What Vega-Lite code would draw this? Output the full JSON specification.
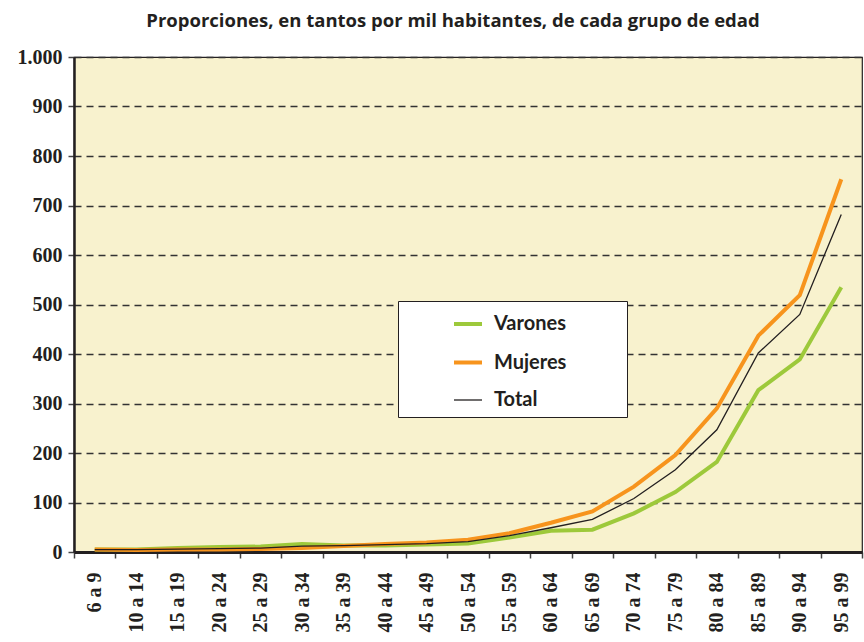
{
  "$schema": "https://vega.github.io/schema/vega-lite/v6.json",
  "width": 788,
  "height": 495,
  "autosize": {"type": "none"},
  "padding": {"left": 74, "top": 57, "right": 2, "bottom": 90},
  "background": "#ffffff",
  "title": {
    "text": "Proporciones, en tantos por mil habitantes, de cada grupo de edad",
    "font": "Open Sans",
    "fontWeight": "bold",
    "fontSize": 18.5,
    "color": "#231f20",
    "anchor": "middle",
    "dx": -15,
    "offset": 17
  },
  "config": {
    "locale": {"number": {"decimal": ",", "thousands": ".", "grouping": [3], "currency": ["", " €"]}},
    "view": {"fill": "#F8F2CE", "stroke": "#231f20", "strokeWidth": 1.2},
    "legend": {
      "fillColor": "#ffffff",
      "strokeColor": "#231f20",
      "padding": 7,
      "symbolType": "stroke",
      "symbolSize": 784,
      "symbolOffset": 47,
      "rowPadding": 12.5,
      "labelFont": "Lato",
      "labelFontWeight": "bold",
      "labelFontSize": 20,
      "labelColor": "#231f20",
      "labelOffset": 10,
      "labelLimit": 300
    }
  },
  "data": {
    "values": [
      {"edad": "6 a 9", "serie": "Varones", "valor": 5},
      {"edad": "10 a 14", "serie": "Varones", "valor": 5},
      {"edad": "15 a 19", "serie": "Varones", "valor": 8},
      {"edad": "20 a 24", "serie": "Varones", "valor": 10},
      {"edad": "25 a 29", "serie": "Varones", "valor": 11},
      {"edad": "30 a 34", "serie": "Varones", "valor": 16},
      {"edad": "35 a 39", "serie": "Varones", "valor": 13},
      {"edad": "40 a 44", "serie": "Varones", "valor": 13},
      {"edad": "45 a 49", "serie": "Varones", "valor": 15},
      {"edad": "50 a 54", "serie": "Varones", "valor": 17},
      {"edad": "55 a 59", "serie": "Varones", "valor": 29},
      {"edad": "60 a 64", "serie": "Varones", "valor": 43},
      {"edad": "65 a 69", "serie": "Varones", "valor": 45},
      {"edad": "70 a 74", "serie": "Varones", "valor": 78},
      {"edad": "75 a 79", "serie": "Varones", "valor": 121},
      {"edad": "80 a 84", "serie": "Varones", "valor": 182},
      {"edad": "85 a 89", "serie": "Varones", "valor": 327},
      {"edad": "90 a 94", "serie": "Varones", "valor": 389},
      {"edad": "95 a 99", "serie": "Varones", "valor": 535},
      {"edad": "6 a 9", "serie": "Mujeres", "valor": 5},
      {"edad": "10 a 14", "serie": "Mujeres", "valor": 4},
      {"edad": "15 a 19", "serie": "Mujeres", "valor": 5},
      {"edad": "20 a 24", "serie": "Mujeres", "valor": 5},
      {"edad": "25 a 29", "serie": "Mujeres", "valor": 6},
      {"edad": "30 a 34", "serie": "Mujeres", "valor": 8},
      {"edad": "35 a 39", "serie": "Mujeres", "valor": 12},
      {"edad": "40 a 44", "serie": "Mujeres", "valor": 16},
      {"edad": "45 a 49", "serie": "Mujeres", "valor": 19},
      {"edad": "50 a 54", "serie": "Mujeres", "valor": 25},
      {"edad": "55 a 59", "serie": "Mujeres", "valor": 38},
      {"edad": "60 a 64", "serie": "Mujeres", "valor": 59},
      {"edad": "65 a 69", "serie": "Mujeres", "valor": 82},
      {"edad": "70 a 74", "serie": "Mujeres", "valor": 132},
      {"edad": "75 a 79", "serie": "Mujeres", "valor": 196},
      {"edad": "80 a 84", "serie": "Mujeres", "valor": 290},
      {"edad": "85 a 89", "serie": "Mujeres", "valor": 437},
      {"edad": "90 a 94", "serie": "Mujeres", "valor": 519},
      {"edad": "95 a 99", "serie": "Mujeres", "valor": 753},
      {"edad": "6 a 9", "serie": "Total", "valor": 5},
      {"edad": "10 a 14", "serie": "Total", "valor": 5},
      {"edad": "15 a 19", "serie": "Total", "valor": 6},
      {"edad": "20 a 24", "serie": "Total", "valor": 7},
      {"edad": "25 a 29", "serie": "Total", "valor": 8},
      {"edad": "30 a 34", "serie": "Total", "valor": 12},
      {"edad": "35 a 39", "serie": "Total", "valor": 13},
      {"edad": "40 a 44", "serie": "Total", "valor": 15},
      {"edad": "45 a 49", "serie": "Total", "valor": 17},
      {"edad": "50 a 54", "serie": "Total", "valor": 21},
      {"edad": "55 a 59", "serie": "Total", "valor": 33},
      {"edad": "60 a 64", "serie": "Total", "valor": 49},
      {"edad": "65 a 69", "serie": "Total", "valor": 66},
      {"edad": "70 a 74", "serie": "Total", "valor": 108},
      {"edad": "75 a 79", "serie": "Total", "valor": 166},
      {"edad": "80 a 84", "serie": "Total", "valor": 247},
      {"edad": "85 a 89", "serie": "Total", "valor": 402},
      {"edad": "90 a 94", "serie": "Total", "valor": 480},
      {"edad": "95 a 99", "serie": "Total", "valor": 682}
    ]
  },
  "mark": {"type": "line", "strokeJoin": "miter", "strokeCap": "butt"},
  "encoding": {
    "x": {
      "field": "edad",
      "type": "ordinal",
      "sort": null,
      "scale": {"type": "band", "paddingInner": 0, "paddingOuter": 0},
      "axis": {
        "title": null,
        "tickBand": "extent",
        "labelAngle": -90,
        "labelAlign": "right",
        "labelBaseline": "middle",
        "labelFont": "Liberation Serif",
        "labelFontWeight": "bold",
        "labelFontSize": 20,
        "labelColor": "#231f20",
        "labelPadding": 14,
        "domainColor": "#231f20",
        "domainWidth": 3,
        "tickColor": "#444444",
        "tickSize": 6,
        "tickWidth": 1.5,
        "grid": false
      }
    },
    "y": {
      "field": "valor",
      "type": "quantitative",
      "scale": {"domain": [0, 1000], "nice": false},
      "axis": {
        "title": null,
        "values": [0, 100, 200, 300, 400, 500, 600, 700, 800, 900, 1000],
        "format": ",d",
        "labelFont": "Liberation Serif",
        "labelFontWeight": "bold",
        "labelFontSize": 20,
        "labelColor": "#231f20",
        "labelPadding": 6,
        "domainColor": "#231f20",
        "domainWidth": 2.5,
        "tickColor": "#444444",
        "tickSize": 6,
        "tickWidth": 1.5,
        "grid": true,
        "gridColor": "#333333",
        "gridDash": [7, 5],
        "gridWidth": 1.3
      }
    },
    "color": {
      "field": "serie",
      "type": "nominal",
      "sort": null,
      "scale": {"domain": ["Varones", "Mujeres", "Total"], "range": ["#9DC93B", "#F7941D", "#231f20"]},
      "legend": {
        "title": null,
        "orient": "none",
        "legendX": 324,
        "legendY": 244,
        "labelExpr": "datum.label + '\u00a0\u00a0\u00a0\u00a0\u00a0\u00a0\u00a0\u00a0\u00a0\u00a0\u00a0\u200b'"
      }
    },
    "strokeWidth": {
      "field": "serie",
      "type": "nominal",
      "sort": null,
      "scale": {"type": "ordinal", "domain": ["Varones", "Mujeres", "Total"], "range": [4, 4, 1.3]},
      "legend": {
        "title": null,
        "orient": "none",
        "legendX": 324,
        "legendY": 244,
        "labelExpr": "datum.label + '\u00a0\u00a0\u00a0\u00a0\u00a0\u00a0\u00a0\u00a0\u00a0\u00a0\u00a0\u200b'"
      }
    }
  }
}
